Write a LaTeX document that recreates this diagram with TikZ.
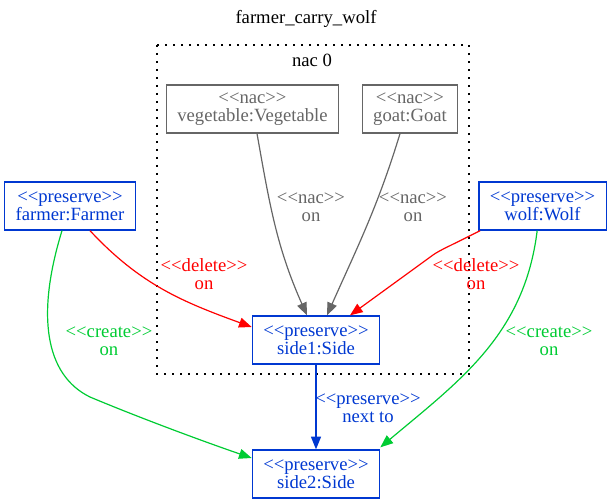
\documentclass[tikz,border=0pt]{standalone}
\usepackage{fontspec}
\setmainfont{Liberation Serif}
\usetikzlibrary{arrows.meta}
\definecolor{presblue}{RGB}{0,56,209}
\definecolor{nacgray}{RGB}{102,102,102}
\definecolor{creategreen}{RGB}{0,204,51}
\definecolor{delred}{RGB}{255,0,0}
\newcommand\stype[1]{<{}<#1>{}>}

\begin{document}
\begin{tikzpicture}[x=0.75pt,y=-0.75pt,
  every node/.style={font=\fontsize{14}{13.3}\selectfont,align=center},
  obj/.style={draw,rectangle,line width=1pt,inner xsep=8.25pt,minimum height=36pt},
  lbl/.style={inner sep=0pt},
  edge/.style={line width=0.9pt,-{Triangle[length=9.5pt,width=7.5pt]}}]
\useasboundingbox (0,0) rectangle (611,503);

\node[lbl] (title) at (306,19) {farmer\_carry\_wolf};
\draw[line width=1pt,dash pattern=on 1.2pt off 4.8pt] (157,45) rectangle (469,374);
\node[lbl] (nac) at (312,60) {nac 0};

\node[obj,nacgray] (veg) at (252.5,109) {\stype{nac}\\vegetable:Vegetable};
\node[obj,nacgray] (goat) at (410,109) {\stype{nac}\\goat:Goat};
\node[obj,presblue] (farmer) at (70,206) {\stype{preserve}\\farmer:Farmer};
\node[obj,presblue] (wolf) at (542.5,206) {\stype{preserve}\\wolf:Wolf};
\node[obj,presblue] (side1) at (316,340) {\stype{preserve}\\side1:Side};
\node[obj,presblue] (side2) at (316,474) {\stype{preserve}\\side2:Side};

\draw[edge,nacgray] ([xshift=3.4pt]veg.south) to[out=-80,in=114] ([xshift=-6.75pt]side1.north);
\draw[edge,nacgray] ([xshift=-7.5pt]goat.south) to[out=-107,in=66] ([xshift=8.25pt]side1.north);
\draw[edge,delred] ([xshift=15pt]farmer.south) to[out=-47,in=160] ([yshift=9.75pt]side1.west);
\draw[edge,delred] ([xshift=1.5pt]wolf.south west) .. controls (450,246) and (440,250) .. (433,255)
  -- ([xshift=25.5pt]side1.north);
\draw[edge,creategreen] ([xshift=-6pt]farmer.south) .. controls (36,315) and (45,375) .. (90,397)
  .. controls (140,418) and (205,442) .. ([yshift=12pt]side2.west);
\draw[edge,creategreen] ([xshift=-4pt]wolf.south) to[out=-97,in=40] ([yshift=1.5pt]side2.north east);
\draw[edge,presblue] (side1) -- (side2);

\node[lbl,nacgray] (lveg) at (311,207) {\stype{nac}\\on};
\node[lbl,nacgray] (lgoat) at (413,207) {\stype{nac}\\on};
\node[lbl,delred] (lfarmer) at (204,274) {\stype{delete}\\on};
\node[lbl,delred] (lwolf) at (476,274) {\stype{delete}\\on};
\node[lbl,creategreen] (lfarmer2) at (109,341) {\stype{create}\\on};
\node[lbl,creategreen] (lwolf2) at (549,341) {\stype{create}\\on};
\node[lbl,presblue] (lside) at (368,408) {\stype{preserve}\\next to};
\end{tikzpicture}
\end{document}
